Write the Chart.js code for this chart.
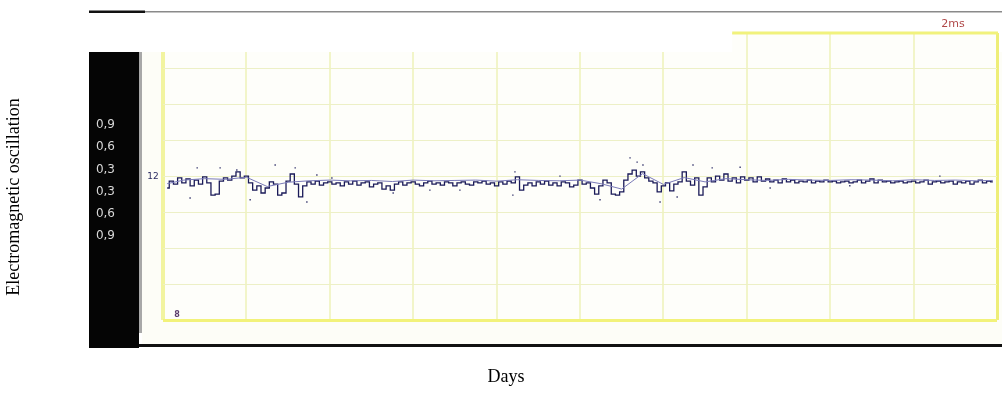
<!DOCTYPE html>
<html>
<head>
<meta charset="utf-8">
<script src="https://cdn.jsdelivr.net/npm/chart.js@4"></script>
<style>
  html, body { margin: 0; padding: 0; background: #fff; }
</style>
</head>
<body>
<canvas id="myChart" width="1002" height="399"></canvas>
<script>
// time axis (days), one sample per day
var days = [1,2,3,4,5,6,7,8,9,10,11,12,13,14,15,16,17,18,19,20,
  21,22,23,24,25,26,27,28,29,30,31,32,33,34,35,36,37,38,39,40,
  41,42,43,44,45,46,47,48,49,50,51,52,53,54,55,56,57,58,59,60,
  61,62,63,64,65,66,67,68,69,70,71,72,73,74,75,76,77,78,79,80,
  81,82,83,84,85,86,87,88,89,90,91,92,93,94,95,96,97,98,99,100,
  101,102,103,104,105,106,107,108,109,110,111,112,113,114,115,116,117,118,119,120,
  121,122,123,124,125,126,127,128,129,130,131,132,133,134,135,136,137,138,139,140,
  141,142,143,144,145,146,147,148,149,150,151,152,153,154,155,156,157,158,159,160,
  161,162,163,164,165,166,167,168,169,170,171,172,173,174,175,176,177,178,179,180,
  181,182,183,184,185,186,187,188,189,190,191,192,193,194,195,196,197,198,199];

// oscillation trace
var signal = [-3.2,-1.3,-2.1,-0.4,-1.8,-0.7,-2.6,-1.0,-2.1,-0.1,
  -1.8,-5.2,-4.9,-1.3,-0.4,-1.0,0.1,1.3,-0.4,0.1,
  -1.8,-3.8,-2.6,-4.6,-3.2,-1.5,-2.1,-5.2,-4.6,-1.3,
  0.7,-2.1,-5.7,-2.6,-1.5,-2.1,-1.3,-2.4,-1.8,-1.5,
  -2.1,-1.8,-2.6,-1.5,-2.1,-1.3,-2.4,-1.8,-1.5,-2.9,
  -2.1,-1.8,-3.5,-2.6,-3.8,-2.1,-1.5,-2.4,-1.8,-1.5,
  -2.1,-2.6,-1.8,-1.3,-2.1,-1.8,-2.4,-1.5,-1.8,-2.6,
  -1.8,-1.5,-2.1,-2.4,-1.5,-1.8,-1.3,-2.1,-1.8,-2.6,
  -1.5,-2.1,-1.3,-1.8,-0.1,-3.8,-2.4,-1.8,-2.6,-1.5,
  -2.1,-1.3,-2.4,-1.8,-2.6,-1.5,-1.8,-2.9,-2.4,-1.0,
  -2.1,-1.8,-3.2,-4.9,-2.6,-1.0,-1.8,-4.9,-5.2,-4.3,
  -1.0,0.7,1.8,0.1,1.3,-0.4,-1.3,-1.8,-4.3,-2.6,
  -1.8,-4.0,-2.1,-1.5,1.3,-1.3,-2.4,-0.4,-5.2,-2.9,
  -0.4,-1.5,0.1,-1.0,0.7,-1.3,-0.4,-1.8,-0.1,-1.0,
  -0.4,-1.5,-0.1,-1.3,-0.7,-1.5,-1.0,-1.8,-0.7,-1.5,
  -1.0,-1.8,-1.3,-1.5,-1.0,-1.8,-1.3,-1.5,-1.0,-1.5,
  -1.3,-1.8,-1.5,-1.3,-1.8,-1.5,-1.0,-1.8,-1.3,-0.7,
  -1.8,-1.0,-1.5,-1.3,-1.8,-1.5,-1.3,-1.8,-1.5,-1.3,
  -1.8,-1.5,-1.0,-2.1,-1.5,-1.3,-1.8,-1.5,-1.3,-2.1,
  -1.5,-1.8,-1.3,-2.1,-1.5,-1.0,-1.8,-1.3,-1.5];

// second, smoother trace (lighter) sampled every 5 days
var baseDays = [1,5,10,15,20,25,30,35,40,45,50,55,60,65,70,75,80,85,90,95,
  100,105,110,115,120,125,130,135,140,145,150,155,160,165,170,175,180,185,190,195,199];
var baseLevel = [-2.0,-1.0,-0.6,-0.8,-0.2,-2.8,-1.6,-1.2,-1.0,-1.2,-1.1,-1.4,-1.0,-1.2,-1.1,-1.0,-1.3,-0.9,-1.1,-1.2,
  -1.0,-2.0,-3.5,0.8,-2.2,-0.3,-1.5,-0.6,-0.9,-1.1,-0.8,-1.0,-1.1,-0.9,-1.0,-1.2,-0.9,-1.1,-1.0,-1.2,-1.1];

// stray samples scattered around the trace
var noiseDays = [6.5,8.2,13.7,17.7,20.9,26.9,31.7,34.5,36.9,40.5,55.2,64,71.2,83.9,84.4,95.2,
  104.8,112,113.7,115.1,119.2,123.3,127.1,131.7,138.4,145.6,164.7,186.3];
var noiseLevels = [-6.0,2.4,2.4,1.8,-6.5,3.2,2.4,-7.1,0.4,-0.4,-4.6,-3.8,-3.8,-5.2,1.3,0.1,
  -6.5,5.2,4.0,3.2,-7.1,-5.7,3.2,2.4,2.6,-3.2,-2.6,0.1];

// level labels on the black side panel (bottom to top)
var levelTicks = [0, 1, 2, 3, 4, 5];
var levelLabels = ['0,9', '0,6', '0,3', '0,3', '0,6', '0,9'];

var topFrameFrom = 136.5;   // day where the raised top frame starts

var scopeFrame = {
  id: 'scopeFrame',
  beforeDraw: function (chart) {
    var c = chart.ctx, a = chart.chartArea;
    c.save();
    c.fillStyle = '#ffffff';
    c.fillRect(0, 0, chart.width, chart.height);
    // top rule
    c.fillStyle = '#111';
    c.fillRect(89, 10.5, 56, 2.5);
    c.fillStyle = '#8a8a8a';
    c.fillRect(145, 11, chart.width - 145, 1.5);
    // screen background
    c.fillStyle = '#fdfdf7';
    c.fillRect(142, 52, chart.width - 142, 293);
    c.fillStyle = '#fefefa';
    c.fillRect(a.left, a.top, a.width, a.height);
    // black side panel + divider
    c.fillStyle = '#050505';
    c.fillRect(89, 52, 50, 296);
    c.fillStyle = '#a8a8a8';
    c.fillRect(139, 52, 3, 281);
    // bottom rule
    c.fillStyle = '#111';
    c.fillRect(139, 344, chart.width - 139, 3);
    c.restore();
  },
  beforeDatasetsDraw: function (chart) {
    var c = chart.ctx, a = chart.chartArea;
    var xs = chart.scales.x.getPixelForValue(topFrameFrom);
    c.save();
    c.fillStyle = '#ffffff';
    c.fillRect(a.left - 4, a.top - 4, xs - a.left + 4, 52 - a.top + 4);
    c.strokeStyle = '#f1f27c';
    c.lineWidth = 3;
    c.beginPath();
    c.moveTo(xs, a.top);
    c.lineTo(a.right + 1, a.top);
    c.stroke();
    c.restore();
  },
  afterDraw: function (chart) {
    var c = chart.ctx, a = chart.chartArea, y = chart.scales.y;
    c.save();
    c.fillStyle = '#b04848';
    c.font = '11px "DejaVu Sans"';
    c.textAlign = 'center';
    c.textBaseline = 'middle';
    c.fillText('2ms', a.right - 44, a.top - 9);
    c.fillStyle = '#2a2a60';
    c.font = '9px "DejaVu Sans"';
    c.fillText('12', a.left - 10, y.getPixelForValue(0));
    c.fillStyle = '#5a3a6a';
    c.font = 'bold 8px "DejaVu Sans"';
    c.fillText('8', a.left + 14, a.bottom - 5);
    // vertical axis title
    c.fillStyle = '#000';
    c.font = '18px "Liberation Serif"';
    c.translate(14, 197);
    c.rotate(-Math.PI / 2);
    c.fillText('Electromagnetic oscillation', 0, 0);
    c.restore();
  }
};

function gridColorX(ctx) {
  if (ctx.index === 0) return '#f2f4a0';
  if (ctx.tick && ctx.tick.value === 200) return '#eeee78';
  return 'rgba(232,236,160,0.55)';
}
function gridWidthX(ctx) {
  if (ctx.index === 0) return 4;
  if (ctx.tick && ctx.tick.value === 200) return 3;
  return 2;
}
function gridColorY(ctx) {
  if (ctx.index === 0) return '#f2f27a';
  return '#edf0c6';
}
function gridWidthY(ctx) {
  return ctx.index === 0 ? 3 : 1;
}

function pairs(xs, ys) {
  return xs.map(function (x, i) { return { x: x, y: ys[i] }; });
}

var ctx = document.getElementById('myChart');
var myChart = new Chart(ctx, {
  type: 'line',
  data: {
    labels: days,
    datasets: [
      {
        label: 'reference',
        data: pairs(baseDays, baseLevel),
        borderColor: '#7a7ab8',
        borderWidth: 1,
        pointRadius: 0,
        fill: false,
        tension: 0
      },
      {
        label: 'oscillation',
        data: signal,
        borderColor: '#1a1a58',
        borderWidth: 1.3,
        pointRadius: 0,
        fill: false,
        stepped: 'middle'
      },
      {
        type: 'scatter',
        label: 'stray samples',
        data: pairs(noiseDays, noiseLevels),
        showLine: false,
        pointStyle: 'rect',
        pointRadius: 1,
        pointBorderWidth: 0,
        pointBackgroundColor: '#3a3a70',
        pointBorderColor: '#3a3a70'
      }
    ]
  },
  options: {
    responsive: false,
    animation: false,
    layout: { padding: { left: 15, right: 5, top: 33, bottom: 0 } },
    plugins: {
      legend: { display: false },
      tooltip: { enabled: false },
      title: {
        display: true,
        position: 'bottom',
        text: 'Days',
        color: '#000',
        font: { family: 'Liberation Serif', size: 18, weight: 'normal' },
        padding: { top: 46.2, bottom: 11.2 }
      }
    },
    scales: {
      x: {
        type: 'linear',
        min: 0,
        max: 200,
        ticks: { display: false, stepSize: 20 },
        border: { display: false },
        grid: { drawTicks: false, color: gridColorX, lineWidth: gridWidthX }
      },
      y: {
        position: 'left',
        min: -40,
        max: 40,
        ticks: { display: false, stepSize: 10 },
        border: { display: false },
        grid: { drawTicks: false, color: gridColorY, lineWidth: gridWidthY }
      },
      yL: {
        position: 'left',
        min: -3.78,
        max: 9.14,
        grid: { display: false, drawTicks: false },
        border: { display: false },
        afterBuildTicks: function (s) {
          s.ticks = levelTicks.map(function (v) { return { value: v }; });
        },
        ticks: {
          padding: 48,
          color: '#d8d8d8',
          font: { family: 'DejaVu Sans', size: 12 },
          callback: function (v, i) { return levelLabels[i]; }
        },
        afterFit: function (s) {
          s.width = 148;
          s.paddingTop = 0;
          s.paddingBottom = 0;
        }
      }
    }
  },
  plugins: [scopeFrame]
});
</script>
</body>
</html>
